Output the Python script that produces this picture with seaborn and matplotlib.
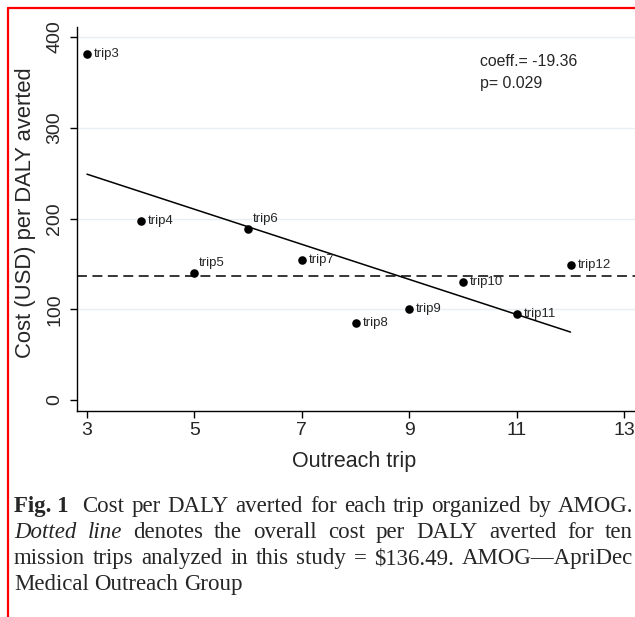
import numpy as np
import pandas as pd
import matplotlib
matplotlib.use("Agg")
import matplotlib.pyplot as plt
import seaborn as sns
from matplotlib.lines import Line2D

# values
trips = [3, 4, 5, 6, 7, 8, 9, 10, 11, 12]
cost_per_daly = [381, 197, 140, 188, 154, 85, 100, 130, 95, 148.5]
trip_labels = ["trip3", "trip4", "trip5", "trip6", "trip7",
               "trip8", "trip9", "trip10", "trip11", "trip12"]
overall_cost = 136.49
coeff_text = "coeff.= -19.36"
p_text = "p= 0.029"
x_ticks = [3, 5, 7, 9, 11, 13]
y_ticks = [0, 100, 200, 300, 400]

caption_lines = [
    [("Fig.\u00a01", "bold"), ("Cost per DALY averted for each trip organized by AMOG.", "normal")],
    [("Dotted line", "italic"), ("denotes the overall cost per DALY averted for ten", "normal")],
    [("mission trips analyzed in this study = $136.49. AMOG\u2014ApriDec", "normal")],
    [("Medical Outreach Group", "normal")],
]

# labels drawn above the point instead of to the right
above_labels = {"trip5", "trip6"}

sns.set_style("white")
plt.rcParams["font.family"] = ["Liberation Sans", "DejaVu Sans"]

W, H = 635, 617
fig = plt.figure(figsize=(W / 100, H / 100), dpi=100)
ax = fig.add_axes([77 / W, (H - 411) / H, 558 / W, 384 / H])

df = pd.DataFrame({"trip": trips, "cost": cost_per_daly, "label": trip_labels})

sns.regplot(data=df, x="trip", y="cost", ci=None, scatter=False, truncate=True,
            line_kws=dict(color="black", lw=1.1), ax=ax)
sns.scatterplot(data=df, x="trip", y="cost", color="black", s=38,
                linewidth=0, ax=ax, zorder=3, legend=False)
ax.axhline(overall_cost, color="black", lw=1.1, dashes=(6.5, 3.6), zorder=2)

for _, row in df.iterrows():
    if row["label"] in above_labels:
        off = (3, 7.5)
    else:
        off = (5, 0)
    ax.annotate(row["label"], (row["trip"], row["cost"]), xytext=off,
                textcoords="offset points", ha="left", va="center", fontsize=9.5)

ax.text(0.722, 0.909, coeff_text, transform=ax.transAxes, ha="left", va="center", fontsize=11.4)
ax.text(0.722, 0.852, p_text, transform=ax.transAxes, ha="left", va="center", fontsize=11.4)

ax.set_xlim(2.814, 13.2)
ax.set_ylim(-12.1, 411)
ax.set_xticks(x_ticks)
ax.set_yticks(y_ticks)
ax.set_yticklabels([str(v) for v in y_ticks], rotation=90, va="center")
ax.tick_params(axis="both", bottom=True, left=True, length=5, width=1,
               color="black", labelsize=14, direction="out")
ax.tick_params(axis="x", pad=3)
ax.tick_params(axis="y", pad=5)

ax.grid(axis="y", color="#e6eff1", lw=1)
ax.set_axisbelow(True)
ax.yaxis.get_gridlines()[0].set_visible(False)

for side in ["top", "right"]:
    ax.spines[side].set_visible(False)
for side in ["left", "bottom"]:
    ax.spines[side].set_color("black")
    ax.spines[side].set_linewidth(1)

ax.set_xlabel("Outreach trip", fontsize=15.5, va="center")
ax.set_ylabel("Cost (USD) per DALY averted", fontsize=15.8, va="center")
ax.xaxis.set_label_coords(0.496, (411 - 462) / 384)
ax.yaxis.set_label_coords((26 - 77) / 558, (411 - 213) / 384)

# caption, justified by hand
cap_size = 16.5
left_px, right_px = 14, 633
baselines = [512, 538, 564, 590]
fig.canvas.draw()
renderer = fig.canvas.get_renderer()


def make_tokens(line):
    toks = []
    for text, style in line:
        for w in text.split(" "):
            toks.append((w, style))
    return toks


for i, line in enumerate(caption_lines):
    toks = make_tokens(line)
    texts = []
    for w, style in toks:
        t = fig.text(0, 1 - baselines[i] / H, w, fontsize=cap_size, va="baseline", ha="left",
                     family=["Liberation Serif", "DejaVu Serif"],
                     fontweight="bold" if style == "bold" else "normal",
                     fontstyle="italic" if style == "italic" else "normal")
        texts.append(t)
    widths = [t.get_window_extent(renderer).width for t in texts]
    space = cap_size * 0.25 * 100 / 72
    gaps = [1.0] * (len(texts) - 1)
    if i == 0:
        gaps[0] = 2.0  # wider gap after "Fig. 1"
    if i < len(caption_lines) - 1:
        free = (right_px - left_px) - sum(widths)
        unit = free / sum(gaps)
    else:
        unit = space
    x = left_px
    for j, t in enumerate(texts):
        t.set_x(x / W)
        x += widths[j]
        if j < len(gaps):
            x += gaps[j] * unit

# red frame lines
fig.add_artist(Line2D([8 / W, 1], [1 - 7.5 / H, 1 - 7.5 / H], color="red", lw=1.6,
                      transform=fig.transFigure))
fig.add_artist(Line2D([8 / W, 8 / W], [1 - 7.5 / H, 0], color="red", lw=1.6,
                      transform=fig.transFigure))

fig.savefig("out.png", dpi=100)
